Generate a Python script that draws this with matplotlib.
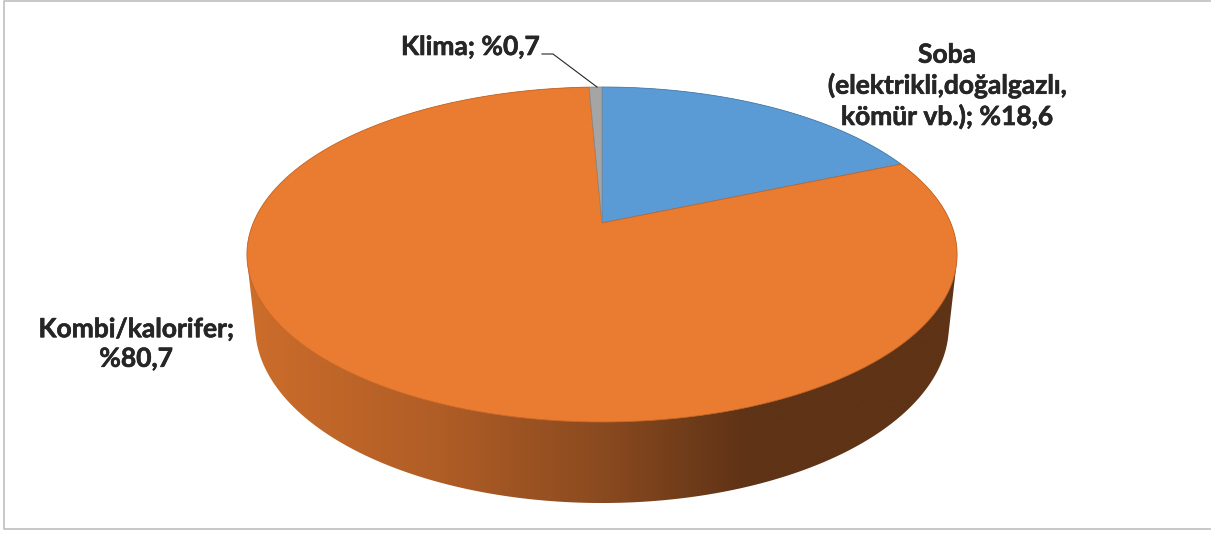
import numpy as np
import matplotlib.pyplot as plt
import matplotlib.patheffects as pe
from matplotlib.patches import Polygon
from matplotlib.colors import LinearSegmentedColormap

# share of heating types (%), drawn clockwise from 12 o'clock
labels = ['Soba\n(elektrikli,doğalgazlı,\nkömür vb.); %18,6',
          'Kombi/kalorifer;\n%80,7',
          'Klima; %0,7']
values = [18.6, 80.7, 0.7]
colors = ['#5B9BD5', '#E97C31', '#A5A5A5']
edges = ['#4A82B5', '#C7682A', '#8A8A8A']

W, H = 1211, 535
fig = plt.figure(figsize=(W / 100, H / 100), dpi=100)
ax = fig.add_axes([0, 0, 1, 1])
ax.set_xlim(0, W)
ax.set_ylim(H, 0)
ax.axis('off')

# simple perspective camera looking down on a unit disc
cx, cy = 602, 223
F, L, phi, depth = 1644.0, 4.714, np.radians(27.6), 0.2337


def project(u, w, h=0.0):
    d = L + w * np.cos(phi) + h * np.sin(phi)
    sx = F * u / d
    sy = F * (w * np.sin(phi) - h * np.cos(phi)) / d
    return cx + sx, cy - sy


def hull(pts):
    pts = sorted(map(tuple, pts))
    def cross(o, a, b):
        return (a[0] - o[0]) * (b[1] - o[1]) - (a[1] - o[1]) * (b[0] - o[0])
    lower, upper = [], []
    for p in pts:
        while len(lower) >= 2 and cross(lower[-2], lower[-1], p) <= 0:
            lower.pop()
        lower.append(p)
    for p in reversed(pts):
        while len(upper) >= 2 and cross(upper[-2], upper[-1], p) <= 0:
            upper.pop()
        upper.append(p)
    return np.array(lower[:-1] + upper[:-1])


# side wall: gradient clipped to the cylinder outline
t = np.linspace(0, 2 * np.pi, 400)
tx, ty = project(np.sin(t), np.cos(t))
bx, by = project(np.sin(t), np.cos(t), depth)
outline = hull(np.column_stack([np.r_[tx, bx], np.r_[ty, by]]))
clip = Polygon(outline, closed=True, facecolor='none', edgecolor='none')
ax.add_patch(clip)

side_cmap = LinearSegmentedColormap.from_list(
    'side', [(0.0, '#CC6D2B'), (0.27, '#B05D26'), (0.5, '#8A4A1F'),
             (0.7, '#5F3316'), (1.0, '#5F3316')])
x0, x1 = outline[:, 0].min(), outline[:, 0].max()
y0, y1 = outline[:, 1].min(), outline[:, 1].max()
grad = np.linspace(0, 1, 256)[None, :]
img = ax.imshow(grad, cmap=side_cmap, extent=(x0, x1, y1, y0),
                aspect='auto', interpolation='bilinear', zorder=1)
img.set_clip_path(clip)
ax.set_xlim(0, W)
ax.set_ylim(H, 0)

# top faces
start = 0.0
for val, col, ec in zip(values, colors, edges):
    span = val / 100 * 2 * np.pi
    a = np.linspace(start, start + span, max(int(val * 4), 4))
    px, py = project(np.sin(a), np.cos(a))
    poly = np.column_stack([np.r_[cx, px], np.r_[cy, py]])
    ax.add_patch(Polygon(poly, closed=True, facecolor=col, edgecolor=ec,
                         linewidth=0.6, zorder=2))
    start += span

# bold labels, thickened a little to look like Calibri Bold
thick = [pe.withStroke(linewidth=0.45, foreground='#262626')]
fnt = dict(family=['Lato', 'DejaVu Sans'], fontweight='bold', fontsize=19,
           color='#262626', path_effects=thick)
ax.text(947, 86, labels[0], ha='center', va='center', linespacing=1.28, **fnt)
ax.text(136, 344, labels[1], ha='center', va='center', linespacing=1.28, **fnt)
ax.text(401, 47, labels[2], ha='left', va='center', **fnt)
ax.plot([542, 553, 597], [54, 54, 87], color='#262626', lw=0.8, zorder=3)

# chart frame
ax.plot([1211, 4, 4, 1211], [0.5, 0.5, 529, 529], color='#BFBFBF', lw=1.2)

fig.savefig('out.png', dpi=100)
